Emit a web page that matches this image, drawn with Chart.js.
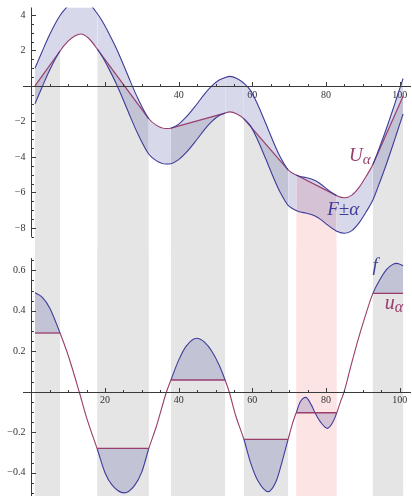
<!DOCTYPE html>
<html><head><meta charset="utf-8">
<script src="https://cdn.jsdelivr.net/npm/chart.js@4"></script>
<style>
html,body{margin:0;padding:0;background:#fff;}
#wrap{position:relative;width:412px;height:496px;overflow:hidden;}
canvas{position:absolute;left:0;}
#c1{top:0;} #c2{top:250px;}
</style></head><body>
<div id="wrap"><canvas id="c1" width="412" height="250"></canvas><canvas id="c2" width="412" height="246"></canvas></div>
<script>
// ---------- data ----------
const xTickLabels = [20, 40, 60, 80, 100];
const yTopTicks = [4, 2, -2, -4, -6, -8];
const yBotTicks = [0.6, 0.4, 0.2, -0.2, -0.4];
const alpha = 1;

const bandStart = [1, 17.9, 37.9, 57.7, 71.9, 92.7];
const bandEnd   = [7.8, 31.9, 52.6, 69.7, 82.9, 100.9];
const bandKind  = ['gray', 'gray', 'gray', 'gray', 'pink', 'gray'];
const uLevel    = [0.29, -0.28, 0.058, -0.235, -0.104, 0.486];
const UStart    = [0, 2.08, -2.38, -1.85, -5.02, -4.42];
const UEnd      = [1.97, -1.85, -1.53, -4.73, -6.18, -0.58];

const gapStart = [7.8, 31.9, 52.6, 69.7, 82.9];
const gapEnd   = [17.9, 37.9, 57.7, 71.9, 92.7];
const gapSide  = ['lower', 'upper', 'lower', 'upper', 'upper'];

const fX = [1,3,5,7.8,10,13,15,17.9,20,22,25.2,28,30,31.9,34,36.7,37.9,40,42,44.9,47,49,51,52.6,53.7,55.5,57.7,59.5,61.5,64.3,66.5,68,69.7,71,71.9,73,74.5,76,77,78.5,80.4,82,82.9,84,84.9,86.5,88.5,90.5,92.7,94.5,96.5,98,99.2,100.9];
const fY = [0.489,0.466,0.414,0.29,0.18,0,-0.128,-0.283,-0.40,-0.463,-0.50,-0.464,-0.396,-0.28,-0.168,0,0.058,0.156,0.224,0.264,0.245,0.20,0.131,0.058,0,-0.12,-0.235,-0.35,-0.44,-0.494,-0.44,-0.35,-0.235,-0.15,-0.104,-0.05,-0.028,-0.065,-0.104,-0.15,-0.181,-0.145,-0.104,-0.045,0,0.11,0.245,0.366,0.486,0.551,0.606,0.628,0.634,0.622];

const FX = [1,3,5,7.8,10,11.8,13.5,15.5,17.9,19,21,23,25.2,27,29,31.9,34,36.5,37.9,40,42,44.9,47,49,51,52.6,53.9,55.8,57.7,59.5,61,62.5,64.3,66,67.5,69,69.7,71.9,73,74.5,76,77,78.5,80.4,82,82.9,85,87,89,91,92.7,94,96,98,99.2,100.9];
const FY = [0,0.97,1.90,2.97,3.52,3.82,3.93,3.70,3.08,2.74,1.99,1.15,0.10,-0.80,-1.74,-2.85,-3.22,-3.40,-3.38,-3.15,-2.76,-2.03,-1.46,-1.0,-0.67,-0.53,-0.46,-0.58,-0.85,-1.25,-1.85,-2.55,-3.45,-4.3,-4.98,-5.52,-5.73,-6.02,-6.10,-6.16,-6.24,-6.33,-6.52,-6.83,-7.07,-7.18,-7.30,-7.15,-6.70,-6.05,-5.42,-4.74,-3.62,-2.41,-1.65,-0.58];

// ---------- style ----------
const blue = 'rgb(61,61,153)', purple = 'rgb(153,61,107)';
const blueFill = 'rgba(61,61,153,0.2)', grayFill = 'rgb(229,229,229)', pinkFill = 'rgb(253,228,228)';
const axisColor = '#3a3a3a', labelColor = '#333';
const serif = "'Liberation Serif', 'DejaVu Serif', serif";

function midIn(c, starts, ends) {
  const m = (c.p0.parsed.x + c.p1.parsed.x) / 2;
  for (let i = 0; i < starts.length; i++) if (m > starts[i] && m < ends[i]) return true;
  return false;
}
function gapsFor(side) {
  const s = [], e = [];
  gapSide.forEach((g, i) => { if (g === side) { s.push(gapStart[i]); e.push(gapEnd[i]); } });
  return [s, e];
}
const fmt = v => {
  const s = (Math.abs(v) < 1 && v !== 0) ? Math.abs(v).toFixed(1) : String(Math.abs(v));
  return (v < 0 ? '\u2212' : '') + s;
};

function axesPlugin(opt) {
  return {
    id: 'axesDraw',
    afterDraw(chart) {
      const ctx = chart.ctx, xs = chart.scales.x, ys = chart.scales.y, a = chart.chartArea;
      ctx.save();
      ctx.strokeStyle = axisColor; ctx.lineWidth = 1;
      const y0 = Math.round(ys.getPixelForValue(0)) + 0.5;
      const x0 = Math.round(xs.getPixelForValue(0)) + 0.5;
      ctx.beginPath(); ctx.moveTo(a.left, y0); ctx.lineTo(a.right, y0); ctx.stroke();
      ctx.beginPath();
      ctx.moveTo(x0, ys.getPixelForValue(opt.yTop));
      ctx.lineTo(x0, ys.getPixelForValue(opt.yBottom));
      ctx.stroke();
      ctx.beginPath();
      for (let k = 1; k * 5 <= xs.max; k++) {
        const px = Math.round(xs.getPixelForValue(k * 5)) + 0.5;
        const len = (k % 4 === 0) ? 4.5 : 2.5;
        ctx.moveTo(px, y0); ctx.lineTo(px, y0 - len);
      }
      const kMin = Math.ceil(opt.yBottom / opt.minor), kMax = Math.floor(opt.yTop / opt.minor);
      for (let k = kMin; k <= kMax; k++) {
        const py = Math.round(ys.getPixelForValue(k * opt.minor)) + 0.5;
        const len = (k % opt.per === 0) ? 4.5 : 2.5;
        ctx.moveTo(x0, py); ctx.lineTo(x0 + len, py);
      }
      ctx.stroke();
      ctx.restore();
    }
  };
}

function textPlugin(items) {
  return {
    id: 'texts',
    afterDraw(chart) {
      const ctx = chart.ctx, xs = chart.scales.x, ys = chart.scales.y;
      ctx.save();
      ctx.textBaseline = 'alphabetic';
      items.forEach(it => {
        let x = xs.getPixelForValue(it.x), y = ys.getPixelForValue(it.y);
        ctx.fillStyle = it.color;
        ctx.font = 'italic ' + it.size + 'px ' + serif;
        ctx.fillText(it.main, x, y);
        if (it.sub) {
          const w = ctx.measureText(it.main).width;
          ctx.font = 'italic ' + it.subSize + 'px ' + serif;
          ctx.fillText(it.sub, x + w + it.subDx, y + it.subDy);
        }
      });
      ctx.restore();
    }
  };
}

function xScale(posY) {
  return {
    type: 'linear', min: -2.25, max: 103.05, position: { y: posY },
    grid: { display: false, drawTicks: false }, border: { display: false },
    afterBuildTicks: s => { s.ticks = xTickLabels.map(v => ({ value: v })); },
    ticks: { padding: 3, autoSkip: false, maxRotation: 0, color: labelColor,
             font: { family: serif, size: 10 }, callback: v => fmt(v) }
  };
}
function yScale(min, max, ticks) {
  return {
    type: 'linear', min: min, max: max, position: { x: -1.6 },
    grid: { display: false, drawTicks: false }, border: { display: false },
    afterBuildTicks: s => { s.ticks = ticks.map(v => ({ value: v })); },
    ticks: { autoSkip: false, padding: 0, color: labelColor,
             font: { family: serif, size: 10, lineHeight: 0.01 }, callback: v => fmt(v) }
  };
}
const common = {
  responsive: false, animation: false, devicePixelRatio: 1, events: [],
  plugins: { legend: { display: false }, tooltip: { enabled: false }, filler: { drawTime: 'beforeDatasetsDraw' } },
  elements: { point: { radius: 0 } }
};

// ---------- top chart ----------
const [lowS, lowE] = gapsFor('lower');
const [upS, upE] = gapsFor('upper');
const topDatasets = [
  { data: FX.map((x, i) => ({ x, y: FY[i] - alpha })), borderColor: blue, borderWidth: 1.1,
    cubicInterpolationMode: 'monotone', fill: false, order: 1,
    segment: { borderColor: c => midIn(c, lowS, lowE) ? purple : undefined } },
  { data: FX.map((x, i) => ({ x, y: FY[i] + alpha })), borderColor: blue, borderWidth: 1.1,
    cubicInterpolationMode: 'monotone', fill: { target: '-1', above: blueFill, below: blueFill }, order: 1,
    segment: { borderColor: c => midIn(c, upS, upE) ? purple : undefined } }
];
bandStart.forEach((b0, i) => topDatasets.push({
  data: [{ x: b0, y: UStart[i] }, { x: bandEnd[i], y: UEnd[i] }],
  borderColor: purple, borderWidth: 1.2, backgroundColor: bandKind[i] === 'pink' ? pinkFill : grayFill,
  fill: 'start', order: 3, tension: 0
}));

const c1 = new Chart(document.getElementById('c1'), {
  type: 'line',
  data: { datasets: topDatasets },
  options: Object.assign({}, common, {
    layout: { padding: { left: 23, right: 1, top: 7.5, bottom: 0 } },
    scales: { x: xScale(0), y: yScale(-9.24, 4.42, yTopTicks) }
  }),
  plugins: [axesPlugin({ yTop: 4.42, yBottom: -8.5, minor: 0.5, per: 4 }),
            textPlugin([
              { main: 'U', sub: '\u03b1', x: 86.2, y: -4.22, color: purple, size: 19, subSize: 15, subDx: 0, subDy: 3 },
              { main: 'F\u00b1\u03b1', x: 80.3, y: -7.25, color: blue, size: 19 }
            ])]
});

// ---------- bottom chart ----------
const botDatasets = [
  { data: fX.map((x, i) => ({ x, y: fY[i] })), borderColor: blue, borderWidth: 1.1,
    cubicInterpolationMode: 'monotone', fill: false, order: 1,
    segment: { borderColor: c => midIn(c, gapStart, gapEnd) ? purple : undefined } }
];
bandStart.forEach((b0, i) => {
  const pts = [];
  fX.forEach((x, j) => { if (x >= b0 - 1e-6 && x <= bandEnd[i] + 1e-6) pts.push({ x, y: fY[j] }); });
  botDatasets.push({ data: pts, borderColor: 'rgba(0,0,0,0)', borderWidth: 1, cubicInterpolationMode: 'monotone',
    fill: { target: { value: uLevel[i] }, above: blueFill, below: blueFill }, order: 3 });
  botDatasets.push({ data: [{ x: b0, y: uLevel[i] }, { x: bandEnd[i], y: uLevel[i] }],
    borderColor: purple, borderWidth: 1.3, fill: false, order: 0, tension: 0 });
});

const bandRects = {
  id: 'bandRects',
  beforeDraw(chart) {
    const ctx = chart.ctx, xs = chart.scales.x, a = chart.chartArea;
    ctx.save();
    bandStart.forEach((b0, i) => {
      const x1 = xs.getPixelForValue(b0), x2 = xs.getPixelForValue(bandEnd[i]);
      ctx.fillStyle = bandKind[i] === 'pink' ? pinkFill : grayFill;
      ctx.fillRect(x1, a.top, x2 - x1, a.bottom - a.top);
    });
    ctx.restore();
  }
};

const c2 = new Chart(document.getElementById('c2'), {
  type: 'line',
  data: { datasets: botDatasets },
  options: Object.assign({}, common, {
    layout: { padding: { left: 23, right: 1, top: 0, bottom: 0 } },
    scales: { x: xScale(0), y: yScale(-0.515, 0.70, yBotTicks) }
  }),
  plugins: [bandRects, axesPlugin({ yTop: 0.66, yBottom: -0.515, minor: 0.05, per: 4 }),
            textPlugin([
              { main: 'f', x: 92.6, y: 0.595, color: blue, size: 19 },
              { main: 'u', sub: '\u03b1', x: 95.9, y: 0.408, color: purple, size: 20, subSize: 16, subDx: 0, subDy: 3 }
            ])]
});
</script>
</body></html>
